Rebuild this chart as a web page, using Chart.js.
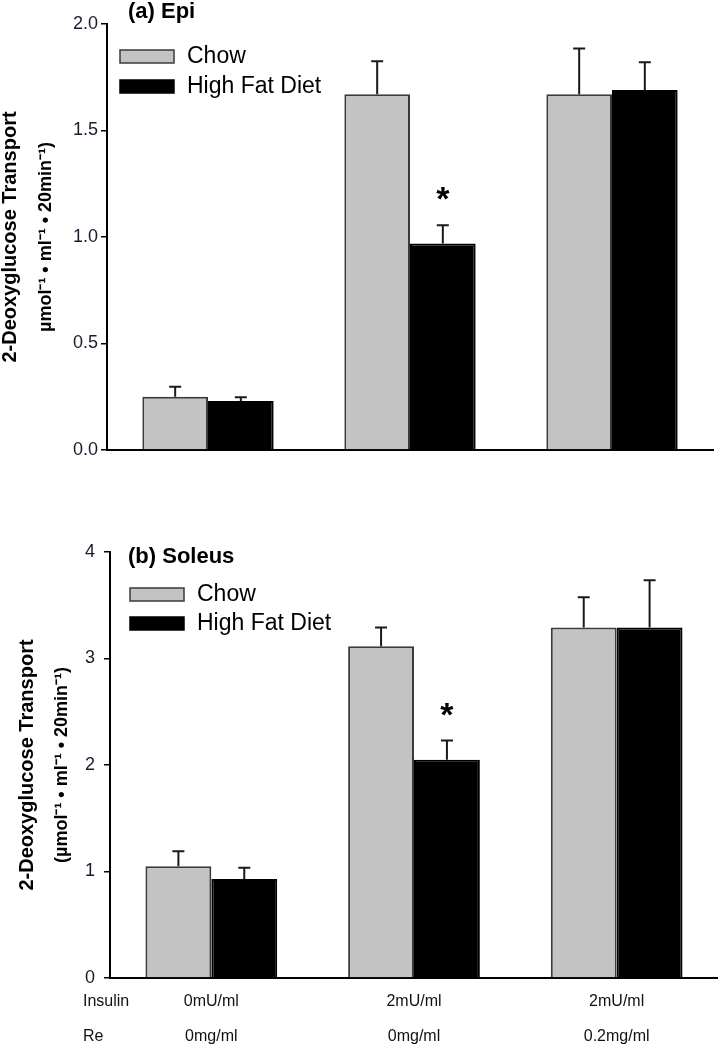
<!DOCTYPE html>
<html>
<head>
<meta charset="utf-8">
<script src="https://cdn.jsdelivr.net/npm/chart.js@4.4.1/dist/chart.umd.min.js"></script>
<style>
  html, body { margin: 0; padding: 0; background: #fff; }
  canvas { position: absolute; left: 0; }
  #epi { top: 0; }
  #soleus { top: 500px; }
</style>
</head>
<body>
<canvas id="epi" width="718" height="500"></canvas>
<canvas id="soleus" width="718" height="550"></canvas>
<script>
// groups along the x axis
const insulinLabels = ['0mU/ml', '2mU/ml', '2mU/ml'];
const reLabels = ['0mg/ml', '0mg/ml', '0.2mg/ml'];
const rowNames = ['Insulin', 'Re'];
const seriesNames = ['Chow', 'High Fat Diet'];

// (a) Epi
const epiChow = [0.25, 1.67, 1.67];
const epiChowErr = [0.047, 0.155, 0.215];
const epiHfd = [0.23, 0.97, 1.69];
const epiHfdErr = [0.018, 0.085, 0.13];
const epiStar = [false, true, false];
const epiTicks = [0, 0.5, 1.0, 1.5, 2.0];

// (b) Soleus
const solChow = [1.05, 3.115, 3.29];
const solChowErr = [0.14, 0.175, 0.285];
const solHfd = [0.93, 2.05, 3.29];
const solHfdErr = [0.105, 0.18, 0.445];
const solStar = [false, true, false];
const solTicks = [0, 1, 2, 3, 4];

const FONT = '"Liberation Sans", Arial, sans-serif';
const noStar = [false, false, false];

// error bars, asterisks, legend, panel title, y title and row names
const decor = {
    id: 'decor',
    afterDatasetsDraw(chart, args, opts) {
        const ctx = chart.ctx;
        const y = chart.scales.y;
        const xs = chart.scales.x;
        const area = chart.chartArea;
        ctx.save();

        chart.data.datasets.forEach((ds, di) => {
            const meta = chart.getDatasetMeta(di);
            meta.data.forEach((bar, i) => {
                const top = y.getPixelForValue(ds.data[i] + ds.err[i]);
                ctx.strokeStyle = '#1a1a1a';
                ctx.lineWidth = 2;
                ctx.beginPath();
                ctx.moveTo(bar.x, bar.y);
                ctx.lineTo(bar.x, top);
                ctx.moveTo(bar.x - 6, top);
                ctx.lineTo(bar.x + 6, top);
                ctx.stroke();
                if (ds.star[i]) {
                    ctx.fillStyle = '#000';
                    ctx.font = 'bold 34px ' + FONT;
                    ctx.textAlign = 'center';
                    ctx.textBaseline = 'alphabetic';
                    ctx.fillText('*', bar.x, top - 15);
                }
            });
        });

        // legend
        chart.data.datasets.forEach((ds, di) => {
            const bx = area.left + opts.legendX;
            const by = area.top + opts.legendY + di * opts.legendGap;
            ctx.fillStyle = ds.backgroundColor;
            ctx.fillRect(bx, by, 54, 13);
            ctx.strokeStyle = ds.borderColor;
            ctx.lineWidth = 1.5;
            ctx.strokeRect(bx, by, 54, 13);
            ctx.fillStyle = '#000';
            ctx.font = '23px ' + FONT;
            ctx.textAlign = 'left';
            ctx.textBaseline = 'middle';
            ctx.fillText(ds.label, bx + 67, by + 7);
        });

        // panel title
        ctx.fillStyle = '#000';
        ctx.font = 'bold 22px ' + FONT;
        ctx.textAlign = 'left';
        ctx.textBaseline = 'middle';
        ctx.fillText(opts.title, area.left + opts.titleX, area.top + opts.titleY);

        // y axis title, two lines
        const cy = (area.top + area.bottom) / 2;
        opts.yTitle.forEach(line => {
            ctx.save();
            ctx.translate(line.x, cy);
            ctx.rotate(-Math.PI / 2);
            ctx.font = line.font;
            ctx.textAlign = 'center';
            ctx.textBaseline = 'middle';
            ctx.fillText(line.text, 0, 0);
            ctx.restore();
        });

        // row names under the x axis
        if (opts.rows) {
            ctx.font = '16px ' + FONT;
            ctx.fillStyle = '#111';
            ctx.textAlign = 'left';
            rowNames.forEach((name, k) => {
                ctx.fillText(name, 83, xs.top + 24 + k * 35);
            });
        }
        ctx.restore();
    }
};

function makeChart(id, chow, chowErr, hfd, hfdErr, star, ticks, cfg) {
    const labels = insulinLabels.map((l, i) => [l, reLabels[i]]);
    return new Chart(document.getElementById(id), {
        type: 'bar',
        data: {
            labels: labels,
            datasets: [
                {
                    label: seriesNames[0],
                    data: chow,
                    err: chowErr,
                    star: noStar,
                    backgroundColor: '#c3c3c3',
                    borderColor: '#3a3a3a',
                    borderWidth: 2
                },
                {
                    label: seriesNames[1],
                    data: hfd,
                    err: hfdErr,
                    star: star,
                    backgroundColor: '#000',
                    borderColor: '#000',
                    borderWidth: 2
                }
            ]
        },
        options: {
            responsive: false,
            animation: false,
            events: [],
            layout: { padding: cfg.padding },
            categoryPercentage: 0.65,
            barPercentage: 1.0,
            plugins: {
                legend: { display: false },
                tooltip: { enabled: false },
                decor: cfg.decor
            },
            scales: {
                x: {
                    grid: { display: false, drawTicks: false },
                    border: { display: true, color: '#000', width: 2 },
                    ticks: {
                        display: cfg.showX,
                        padding: 6.5,
                        color: '#111',
                        font: { family: FONT, size: 16, lineHeight: '35px' }
                    },
                    afterFit: s => { s.height = cfg.xHeight; }
                },
                y: {
                    min: ticks[0],
                    max: ticks[ticks.length - 1],
                    afterBuildTicks: s => { s.ticks = ticks.map(v => ({ value: v })); },
                    grid: {
                        display: true,
                        drawOnChartArea: false,
                        drawTicks: true,
                        tickLength: 6,
                        color: '#000',
                        lineWidth: 1.5
                    },
                    border: { display: true, color: '#000', width: 2 },
                    ticks: {
                        padding: cfg.tickPad,
                        color: '#1a1a2e',
                        font: { family: FONT, size: 18 },
                        callback: v => cfg.fmt(v)
                    },
                    afterFit: s => { s.width = cfg.yWidth; }
                }
            }
        },
        plugins: [decor]
    });
}

makeChart('epi', epiChow, epiChowErr, epiHfd, epiHfdErr, epiStar, epiTicks, {
    padding: { top: 24, right: 5, left: 0, bottom: 0 },
    xHeight: 50,
    yWidth: 107,
    tickPad: 3,
    showX: false,
    fmt: v => v.toFixed(1),
    decor: {
        title: '(a) Epi', titleX: 21, titleY: -12,
        legendX: 13, legendY: 26, legendGap: 30,
        rows: false,
        yTitle: [
            { text: '2-Deoxyglucose Transport', x: 10, font: 'bold 20px ' + FONT },
            { text: 'µmol⁻¹ • ml⁻¹ • 20min⁻¹)', x: 46, font: 'bold 18px ' + FONT }
        ]
    }
});

makeChart('soleus', solChow, solChowErr, solHfd, solHfdErr, solStar, solTicks, {
    padding: { top: 52, right: 0, left: 0, bottom: 0 },
    xHeight: 72,
    yWidth: 110,
    tickPad: 9,
    showX: true,
    fmt: v => String(v),
    decor: {
        title: '(b) Soleus', titleX: 18, titleY: 5,
        legendX: 20, legendY: 36, legendGap: 29,
        rows: true,
        yTitle: [
            { text: '2-Deoxyglucose Transport', x: 27, font: 'bold 20px ' + FONT },
            { text: '(µmol⁻¹ • ml⁻¹ • 20min⁻¹)', x: 62, font: 'bold 18px ' + FONT }
        ]
    }
});
</script>
</body>
</html>
